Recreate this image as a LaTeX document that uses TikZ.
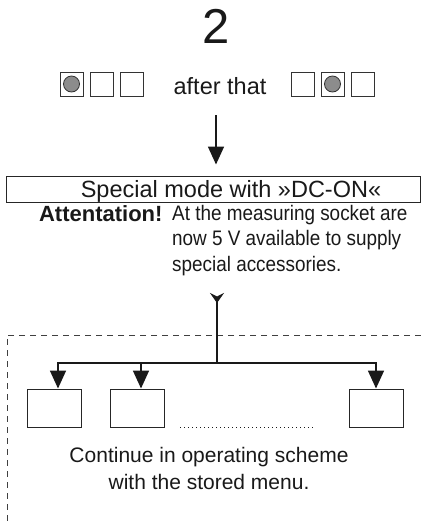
\documentclass[tikz,border=0pt]{standalone}
\usepackage{fontspec}
\setmainfont{Liberation Sans}
\newfontfamily\narrowfont[FakeStretch=0.9]{Liberation Sans}
\usetikzlibrary{arrows.meta,positioning}
\tikzset{
	led/.style={draw=black!80, line width=0.9pt, minimum width=23pt, minimum height=24pt, inner sep=0pt},
	lit/.style={circle, draw=black!80, line width=0.8pt, fill=black!45, minimum size=16pt, inner sep=0pt},
	menubox/.style={draw=black!85, line width=1pt, minimum width=54pt, minimum height=38pt, inner sep=0pt},
	arr/.style={line width=1.7pt, black!90, -{Triangle[length=18pt, width=16pt]}},
}
\begin{document}
\begin{tikzpicture}[x=1pt, y=-1pt, black!90]
			\useasboundingbox (0,0) rectangle (421,523);
			\node[font=\fontsize{49}{49}\selectfont, anchor=base] (num) at (216,43) {2};
			% keys: first and second step
			\foreach \coord/\on [count=\xi] in {
				{71.5,84}/1,
				{101.5,84}/0,
				{132,84}/0,
				{302.5,84}/0,
				{332.5,84}/1,
				{362.5,84}/0
			}{
			\node[led] (key\xi) at (\coord) {};
			\ifnum\on=1 \node[lit] at (key\xi) {}; \fi
			}
			\node[font=\fontsize{23.5}{26}\selectfont, anchor=base] (then) at (220,94) {after that};
			\coordinate (a0) at (216,115);
			\node[draw=black!85, line width=1pt, minimum width=414pt, minimum height=26pt, inner sep=0pt] (mode) at (213,189) {};
			\node[font=\fontsize{23.5}{26}\selectfont, anchor=base] (modetxt) at (231,197) {Special mode with »DC-ON«};
			\draw[arr, shorten >=11pt] (a0) -- (a0 |- mode.north);
			\node[font=\bfseries\fontsize{22}{25}\selectfont, anchor=base east] (att) at (166,221) {Attentation!};
			\node[font=\narrowfont\fontsize{21}{25.5}\selectfont, align=left, anchor=north west, inner sep=0pt] (note) at (172,205) {At the measuring socket are\\now 5 V available to supply\\special accessories.};
			% branch to the stored menu
			\draw[dash pattern=on 6pt off 5pt, line width=0.9pt, black!75] (421,335) -- (7,335) -- (7,523);
			\coordinate (t0) at (217,293);
			\coordinate (j) at (217,363);
			\draw[line width=1.7pt, {Stealth[reversed, length=10pt, width=14pt, inset=3.5pt]}-] (t0) -- (j);
			\node[menubox] (m1) at (54.5,408) {};
			\node[menubox] (m2) at (137.5,408) {};
			\node[menubox] (m3) at (376,408) {};
			\draw[arr] (j) -| ([xshift=3.5pt]m1.north);
			\draw[arr] (j) -| ([xshift=3.5pt]m2.north);
			\draw[arr] (j) -| (m3.north);
			\draw[line width=0.8pt, dash pattern=on 0.8pt off 3.2pt] ([xshift=15pt]m2.south east) -- ([xshift=-35pt]m3.south west);
			\node[font=\fontsize{21}{27}\selectfont, align=center, anchor=north, inner sep=0pt] (cont) at (209,447) {Continue in operating scheme\\with the stored menu.};
\end{tikzpicture}
\end{document}
